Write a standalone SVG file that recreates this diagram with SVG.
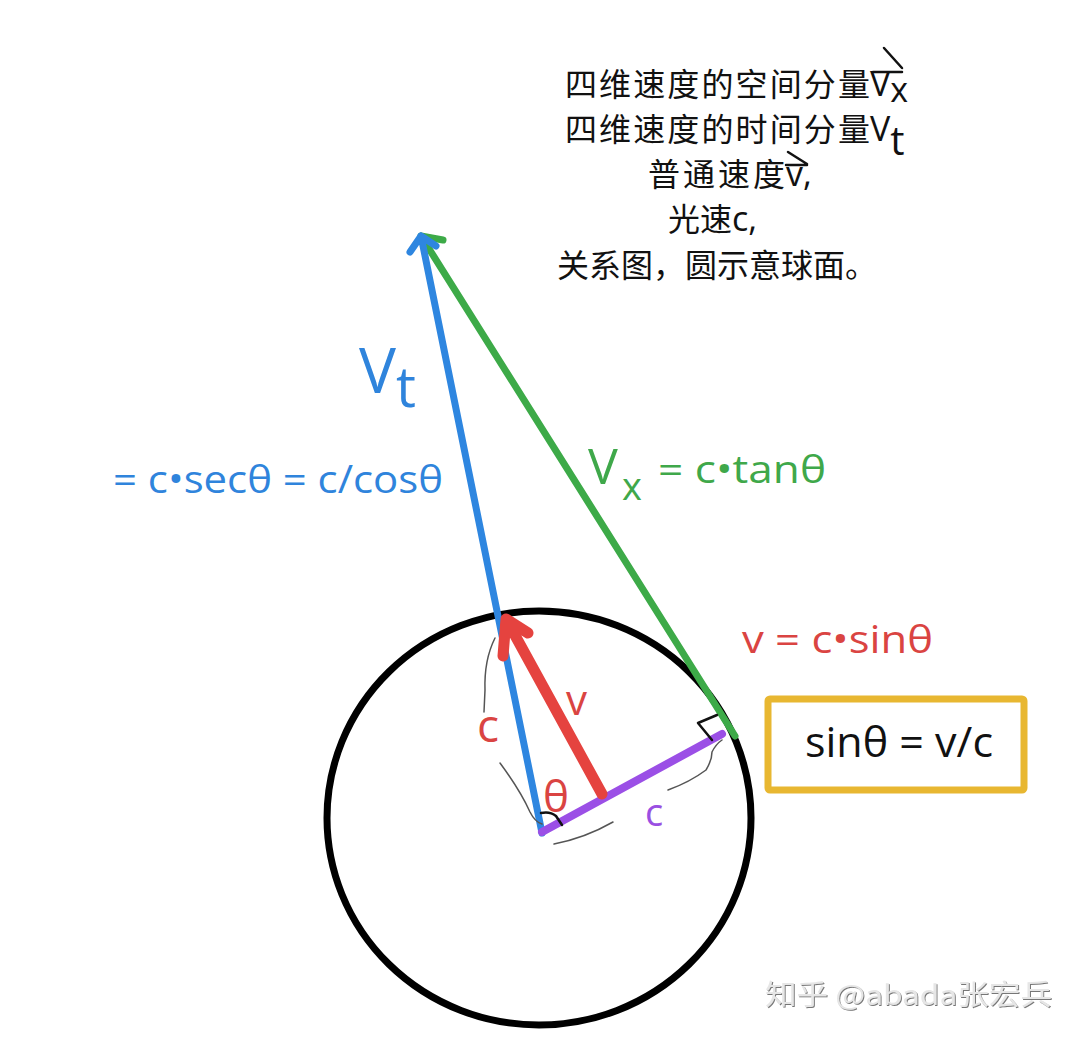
<svg xmlns="http://www.w3.org/2000/svg" width="1080" height="1041" viewBox="0 0 1080 1041">
<defs>
<style>
.cjk{font-family:"Noto Sans CJK SC","Noto Sans",sans-serif;font-size:32px;fill:#111}
.lat{font-family:"Open Sans","Noto Sans",sans-serif}
.blue{fill:#2F84DC}
.green{fill:#3FA84A}
.red{fill:#DA4442}
.purple{fill:#9A4FE2}
.thin{fill:none;stroke:#555;stroke-width:1.5;stroke-linecap:round}
.ln{fill:none;stroke-linecap:round;stroke-linejoin:round}
</style>
<filter id="sh" x="-5%" y="-20%" width="110%" height="140%">
<feDropShadow dx="1" dy="1" stdDeviation="0.6" flood-color="#555" flood-opacity="0.8"/>
</filter>
</defs>
<rect width="1080" height="1041" fill="#fff"/>

<g id="title">
<text class="cjk" x="565" y="96" textLength="305">四维速度的空间分量</text>
<text class="cjk" x="870" y="96"><tspan class="lat" font-size="34">V</tspan><tspan class="lat" font-size="34" dy="6">x</tspan></text>
<path class="ln" stroke="#111" stroke-width="2.5" d="M873 72 H902 M884 48 L902 68"/>
<text class="cjk" x="565" y="141" textLength="305">四维速度的时间分量</text>
<text class="cjk" x="870" y="141"><tspan class="lat" font-size="34">V</tspan><tspan class="lat" font-size="40" dy="14">t</tspan></text>
<text class="cjk" x="648" y="186" textLength="137">普通速度</text>
<text class="cjk" x="786" y="186"><tspan class="lat" font-size="34">v,</tspan></text>
<path class="ln" stroke="#111" stroke-width="2.5" d="M786 165 H807 M788 152 L807 164"/>
<text class="cjk" x="668" y="231">光速<tspan class="lat" font-size="34">c,</tspan></text>
<text class="cjk" x="557" y="277">关系图，圆示意球面。</text>
</g>

<g id="sphere">
<ellipse cx="539" cy="818" rx="212" ry="207" fill="none" stroke="#000" stroke-width="7"/>
</g>

<g id="connectors">
<path class="ln" stroke="#3DAA48" stroke-width="7" d="M735 736 L421 236 M421 236 L443 240"/>
<path class="ln" stroke="#2E86E0" stroke-width="7" d="M542 833 L421 236 M421 236 L410 252 M421 236 L436 246"/>
<path class="ln" stroke="#9B4FE6" stroke-width="8" d="M542 832 L722 734"/>
<path class="ln" stroke="#E5433F" stroke-width="11" d="M602 794 L506 619 M506 619 L503 656 M506 619 L528 633"/>
<path class="ln" stroke="#111" stroke-width="2.5" d="M698 723 L717 715 M698 723 L712 740"/>
<path class="ln" stroke="#111" stroke-width="2.5" d="M541 813 Q550 811 556 816 L562 825"/>
<path class="thin" d="M495 638 Q484 660 485 690 L484 712"/>
<path class="thin" d="M500 763 Q520 790 530 812 Q535 822 542 824"/>
<path class="thin" d="M554 844 Q585 838 613 822"/>
<path class="thin" d="M668 790 Q690 782 706 770 Q712 760 712 752 Q716 744 722 740"/>
</g>

<g id="labels">
<text class="lat blue" x="359" y="393" font-size="62">V</text>
<text class="lat blue" x="396" y="407" font-size="56">t</text>
<text class="lat blue" x="113" y="493" font-size="38" textLength="330" lengthAdjust="spacingAndGlyphs">= c•secθ = c/cosθ</text>
<text class="lat green" x="588" y="484" font-size="50">V</text>
<text class="lat green" x="622" y="500" font-size="38">x</text>
<text class="lat green" x="658" y="483" font-size="38" textLength="168" lengthAdjust="spacingAndGlyphs">= c•tanθ</text>
<text class="lat red" x="742" y="653" font-size="38" textLength="191" lengthAdjust="spacingAndGlyphs">v = c•sinθ</text>
<text class="lat red" x="566" y="715" font-size="42">v</text>
<text class="lat red" x="477" y="742" font-size="46">c</text>
<text class="lat red" x="543" y="812" font-size="44">θ</text>
<text class="lat purple" x="645" y="826" font-size="38">c</text>
</g>

<g id="formula-box">
<rect x="768" y="699" width="256" height="91" rx="2" fill="none" stroke="#E8B731" stroke-width="7"/>
<text class="lat" x="805" y="757" font-size="42" fill="#111" textLength="188" lengthAdjust="spacingAndGlyphs">sinθ = v/c</text>
</g>

<g id="watermark">
<text x="765" y="1005" font-family="Noto Sans CJK SC, Noto Sans, sans-serif" font-size="28" fill="#e6e6e6" filter="url(#sh)" textLength="287" lengthAdjust="spacingAndGlyphs">知乎 @abada张宏兵</text>
</g>
</svg>
